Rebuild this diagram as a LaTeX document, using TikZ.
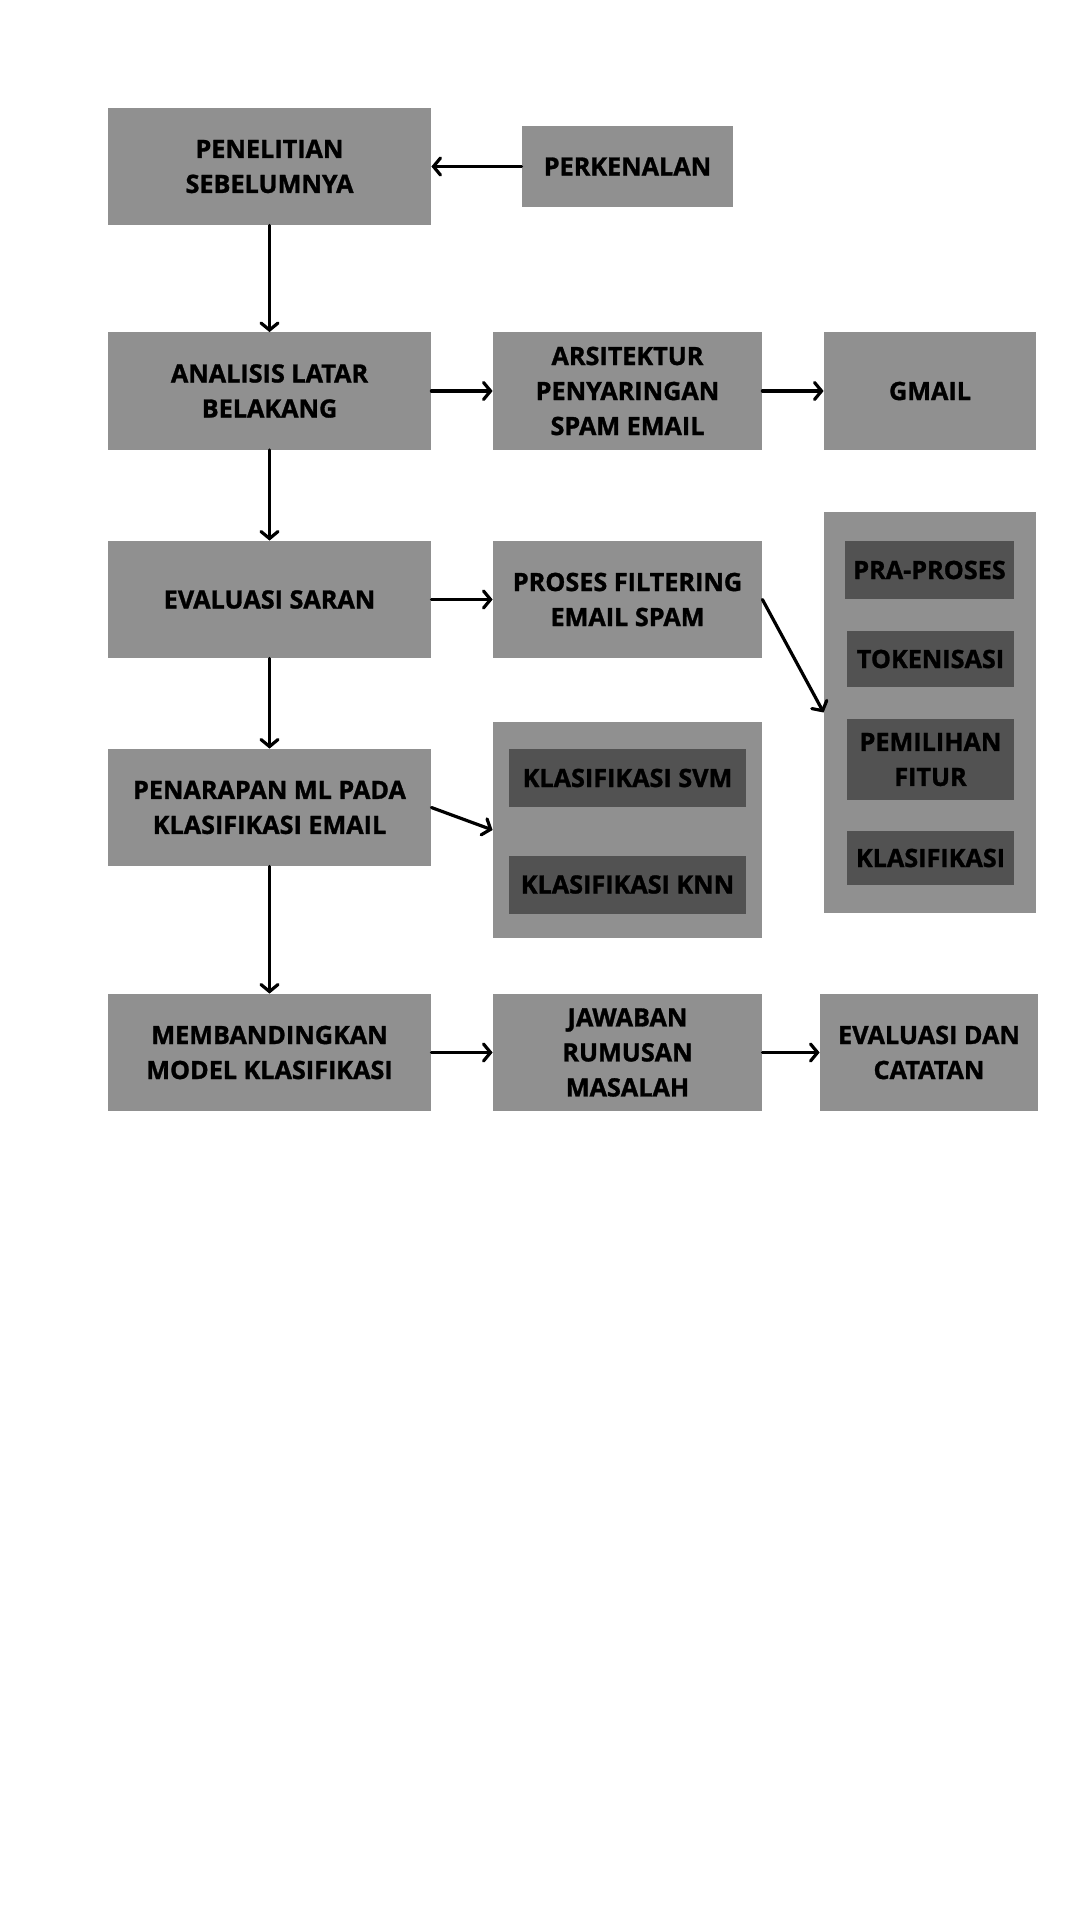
\documentclass[tikz,border=0pt]{standalone}
\usepackage{fontspec}
\setmainfont{Open Sans}[BoldFeatures={FakeBold=1.2}]
\usepackage{xcolor}
\usetikzlibrary{arrows.meta}

\definecolor{boxgray}{HTML}{909090}
\definecolor{darkgray}{HTML}{525252}

\begin{document}
\begin{tikzpicture}[x=0.5pt,y=-0.5pt]
      \tikzstyle{component} = [rectangle, minimum width=161.5pt, minimum height=58.5pt, inner sep=1pt, align=center, text=black, fill=boxgray, font=\bfseries\fontsize{12.6}{17.5}\selectfont]
      \tikzstyle{midbox} = [component, minimum width=134.5pt]
      \tikzstyle{sidebox} = [component, minimum width=106pt]
      \tikzstyle{inner} = [component, fill=darkgray, minimum width=83.5pt]
      \tikzstyle{arrow} = [line width=1.6pt, -{Straight Barb[length=3.5pt,width=8.5pt,line cap=round]}, line cap=round]

      \useasboundingbox (0,0) rectangle (1080,1920);

      \node (prev) [component] at (269.5,166.5) {PENELITIAN\\SEBELUMNYA};
      \node (intro) [sidebox, minimum width=105.5pt, minimum height=40.5pt] at (627.5,166.5) {PERKENALAN};
      \node (background) [component] at (269.5,391) {ANALISIS LATAR\\BELAKANG};
      \node (arch) [midbox] at (627.5,391) {ARSITEKTUR\\PENYARINGAN\\SPAM EMAIL};
      \node (gmail) [sidebox] at (930,391) {GMAIL};
      \node (suggest) [component] at (269.5,599.5) {EVALUASI SARAN};
      \node (filter) [midbox] at (627.5,599.5) {PROSES FILTERING\\EMAIL SPAM};

      % tahapan filtering
      \node (steps) [sidebox, minimum height=200.5pt] at (930,712.5) {};
      \node (prep) [inner, minimum width=84.5pt, minimum height=29pt] at (929.5,570) {PRA-PROSES};
      \node (token) [inner, minimum height=28pt] at (930.5,659) {TOKENISASI};
      \node (feature) [inner, minimum height=40.5pt] at (930.5,759.5) {PEMILIHAN\\FITUR};
      \node (classify) [inner, minimum height=27pt] at (930.5,858) {KLASIFIKASI};

      \node (applied) [component] at (269.5,807.5) {PENARAPAN ML PADA\\KLASIFIKASI EMAIL};

      % metode klasifikasi
      \node (methods) [midbox, minimum height=108pt] at (627.5,830) {};
      \node (svm) [inner, minimum width=118.5pt, minimum height=29pt] at (627.5,778) {KLASIFIKASI SVM};
      \node (knn) [inner, minimum width=118.5pt, minimum height=29pt] at (627.5,884.5) {KLASIFIKASI KNN};

      \node (compare) [component] at (269.5,1052.5) {MEMBANDINGKAN\\MODEL KLASIFIKASI};
      \node (answer) [midbox] at (627.5,1052.5) {JAWABAN\\RUMUSAN\\MASALAH};
      \node (notes) [sidebox, minimum width=109pt] at (929,1052.5) {EVALUASI DAN\\CATATAN};

      \draw [arrow] (intro) -- (prev);
      \draw [arrow] (prev) -- (background);
      \draw [arrow] (background) -- (arch);
      \draw [arrow] (arch) -- (gmail);
      \draw [arrow] (background) -- (suggest);
      \draw [arrow] (suggest) -- (filter);
      \draw [arrow] (filter.east) -- (steps.west);
      \draw [arrow] (suggest) -- (applied);
      \draw [arrow] (applied.east) -- (methods.west);
      \draw [arrow] (applied) -- (compare);
      \draw [arrow] (compare) -- (answer);
      \draw [arrow] (answer) -- (notes);
    \end{tikzpicture}
\end{document}
